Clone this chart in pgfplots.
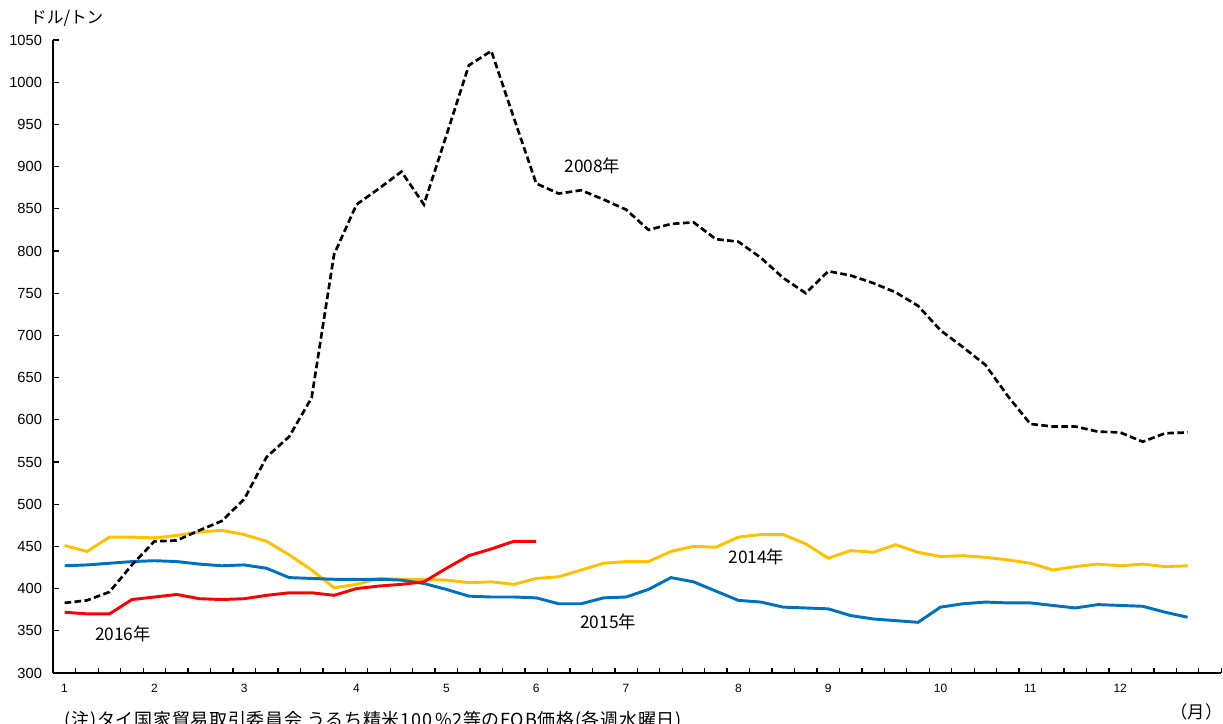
\documentclass[border=0pt]{standalone}
\usepackage{fontspec}
\setmainfont{Noto Sans CJK JP}
\newfontfamily\arialfont{Liberation Sans}
\usepackage{pgfplots}
\pgfplotsset{compat=1.18}

\definecolor{c2014}{HTML}{FFC000}
\definecolor{c2015}{HTML}{0070C0}
\definecolor{c2016}{HTML}{FF0000}

% weekly prices (USD/t), x = week index, month ticks at 0,4,8,13,...
\pgfplotstableread{
k v
0 383
1 386
2 396
3 428
4 456
5 457
6 469
7 480
8 506
9 556
10 580
11 626
12 796
13 855
14 874
15 894
16 855
17 937
18 1020
19 1037
20 958
21 880
22 868
23 872
24 861
25 849
26 825
27 832
28 834
29 814
30 811
31 792
32 768
33 750
34 776
35 771
36 762
37 751
38 735
39 706
40 686
41 665
42 628
43 595
44 592
45 592
46 586
47 585
48 574
49 584
50 585
}\yearA

\pgfplotstableread{
k v
0 451
1 444
2 461
3 461
4 460
5 463
6 467
7 469
8 464
9 456
10 440
11 422
12 401
13 405
14 412
15 411
16 411
17 410
18 407
19 408
20 405
21 412
22 414
23 422
24 430
25 432
26 432
27 444
28 450
29 449
30 461
31 464
32 464
33 453
34 436
35 445
36 443
37 452
38 443
39 438
40 439
41 437
42 434
43 430
44 422
45 426
46 429
47 427
48 429
49 426
50 427
}\yearB

\pgfplotstableread{
k v
0 427
1 428
2 430
3 432
4 433
5 432
6 429
7 427
8 428
9 424
10 413
11 412
12 411
13 411
14 411
15 410
16 406
17 399
18 391
19 390
20 390
21 389
22 382
23 382
24 389
25 390
26 399
27 413
28 408
29 397
30 386
31 384
32 378
33 377
34 376
35 368
36 364
37 362
38 360
39 378
40 382
41 384
42 383
43 383
44 380
45 377
46 381
47 380
48 379
49 372
50 366
}\yearC

\pgfplotstableread{
k v
0 372
1 370
2 370
3 387
4 390
5 393
6 388
7 387
8 388
9 392
10 395
11 395
12 392
13 400
14 403
15 405
16 408
17 424
18 439
19 447
20 456
21 456
}\yearD

\begin{document}
\begin{tikzpicture}
\begin{axis}[
  name=ax,
  scale only axis,
  width=876pt, height=474.75pt,
  xmin=-0.5, xmax=51.5,
  ymin=300, ymax=1050,
  axis x line=bottom, axis y line=left,
  axis line style={-, line width=1.4pt, black},
  clip=false,
  xtick={0,4,8,13,17,21,25,30,34,39,43,47},
  xticklabels={1,2,3,4,5,6,7,8,9,10,11,12},
  major x tick style={draw=none},
  minor xtick={-0.5,0.5,...,51.5},
  minor tick length=4pt,
  ytick={300,350,...,1050},
  major tick length=4pt,
  tick align=inside,
  tick style={black, line width=1pt},
  xticklabel style={font=\arialfont\fontsize{9pt}{11pt}\selectfont, yshift=-5pt},
  yticklabel style={font=\arialfont\fontsize{11pt}{13pt}\selectfont, xshift=-5pt},
  /pgf/number format/assume math mode=true,
  /pgf/number format/1000 sep={},
]
\addplot[c2014, line width=2.2pt, mark=none] table[x=k, y=v] {\yearB};
\addplot[c2015, line width=2.2pt, mark=none] table[x=k, y=v] {\yearC};
\addplot[c2016, line width=2.2pt, mark=none] table[x=k, y=v] {\yearD};
\addplot[black, line width=2pt, dash pattern=on 5pt off 2.5pt, mark=none] table[x=k, y=v] {\yearA};

\node[font=\fontsize{13pt}{15pt}\selectfont] at (axis cs:23.5,901) {2008年};
\node[font=\fontsize{13pt}{15pt}\selectfont] at (axis cs:30.8,437) {2014年};
\node[font=\fontsize{13pt}{15pt}\selectfont] at (axis cs:24.2,361) {2015年};
\node[font=\fontsize{13pt}{15pt}\selectfont] at (axis cs:2.6,346) {2016年};
\node[font=\fontsize{12.5pt}{15pt}\selectfont] at (axis cs:0.1,1076) {ドル/トン};
\node[font=\fontsize{13pt}{15pt}\selectfont] at (axis cs:50.4,254) {（月）};
\node[font=\fontsize{13.5pt}{15pt}\selectfont\addfontfeatures{LetterSpace=4}, anchor=west, inner sep=0pt] at (axis cs:0,243) {(注)タイ国家貿易取引委員会\ うるち精米100\,\%2等のFOB価格(各週水曜日)};
\end{axis}
\pgfresetboundingbox
\useasboundingbox ([shift={(-40pt,-38.25pt)}]ax.south west) rectangle ([shift={(1.3pt,30pt)}]ax.north east);
\end{tikzpicture}
\end{document}
